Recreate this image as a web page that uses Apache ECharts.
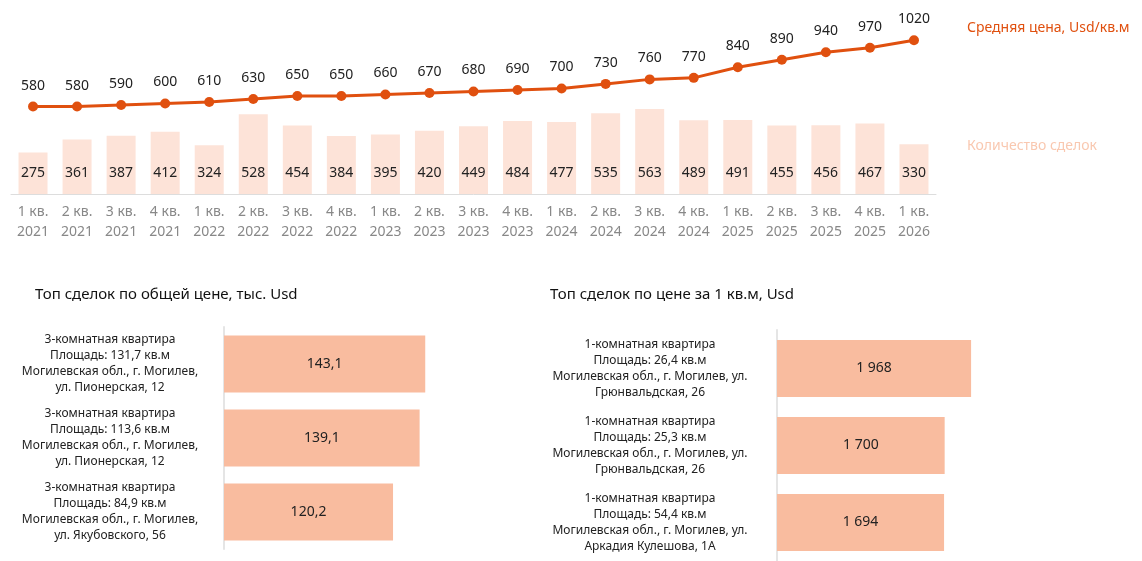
<!DOCTYPE html>
<html>
<head>
<meta charset="utf-8">
<script src="https://cdn.jsdelivr.net/npm/echarts@6/dist/echarts.min.js"></script>
<style>html,body{margin:0;padding:0;background:#fff}#c{width:1142px;height:561px}</style>
</head>
<body>
<div id="c"></div>
<script>
var quarters = ['1 кв.\n2021','2 кв.\n2021','3 кв.\n2021','4 кв.\n2021','1 кв.\n2022','2 кв.\n2022','3 кв.\n2022','4 кв.\n2022',
  '1 кв.\n2023','2 кв.\n2023','3 кв.\n2023','4 кв.\n2023','1 кв.\n2024','2 кв.\n2024','3 кв.\n2024','4 кв.\n2024',
  '1 кв.\n2025','2 кв.\n2025','3 кв.\n2025','4 кв.\n2025','1 кв.\n2026'];
var avgPrice = [580,580,590,600,610,630,650,650,660,670,680,690,700,730,760,770,840,890,940,970,1020];
var dealCount = [275,361,387,412,324,528,454,384,395,420,449,484,477,535,563,489,491,455,456,467,330];

var totalLabels = ['3-комнатная квартира\nПлощадь: 131,7 кв.м\nМогилевская обл., г. Могилев,\nул. Пионерская, 12',
  '3-комнатная квартира\nПлощадь: 113,6 кв.м\nМогилевская обл., г. Могилев,\nул. Пионерская, 12',
  '3-комнатная квартира\nПлощадь: 84,9 кв.м\nМогилевская обл., г. Могилев,\nул. Якубовского, 56'];
var totalValues = [143.1, 139.1, 120.2];

var sqmLabels = ['1-комнатная квартира\nПлощадь: 26,4 кв.м\nМогилевская обл., г. Могилев, ул.\nГрюнвальдская, 26',
  '1-комнатная квартира\nПлощадь: 25,3 кв.м\nМогилевская обл., г. Могилев, ул.\nГрюнвальдская, 26',
  '1-комнатная квартира\nПлощадь: 54,4 кв.м\nМогилевская обл., г. Могилев, ул.\nАркадия Кулешова, 1А'];
var sqmValues = [1968, 1700, 1694];

var font = 'Noto Sans';
var chart = echarts.init(document.getElementById('c'));
chart.setOption({
  animation: false,
  textStyle: {fontFamily: font},
  title: [
    {text: 'Топ сделок по общей цене, тыс. Usd', left: 30, top: 282, textStyle: {fontFamily: font, fontSize: 15, fontWeight: 'normal', color: '#111'}},
    {text: 'Топ сделок по цене за 1 кв.м, Usd', left: 545, top: 282, textStyle: {fontFamily: font, fontSize: 15, fontWeight: 'normal', color: '#111'}},
    {text: 'Средняя цена, Usd/кв.м', left: 962, top: 16, textStyle: {fontFamily: font, fontSize: 14, fontWeight: 'normal', color: '#e0500f'}},
    {text: 'Количество сделок', left: 962, top: 134, textStyle: {fontFamily: font, fontSize: 14, fontWeight: 'normal', color: '#f9c8b0'}}
  ],
  grid: [
    {left: 11, right: 206, top: 10, bottom: 367},
    {left: 224, width: 225, top: 327, bottom: 12},
    {left: 777, width: 215, top: 330, bottom: 0}
  ],
  xAxis: [
    {type: 'category', gridIndex: 0, data: quarters, axisTick: {show: false},
      axisLine: {lineStyle: {color: '#ddd'}},
      axisLabel: {color: '#888', fontSize: 14, lineHeight: 20, margin: 8}},
    {type: 'value', gridIndex: 1, min: 0, max: 160, show: false},
    {type: 'value', gridIndex: 2, min: 0, max: 2180, show: false}
  ],
  yAxis: [
    {type: 'value', gridIndex: 0, min: 0, max: 1220, show: false},
    {type: 'category', gridIndex: 1, data: totalLabels, inverse: true, axisTick: {show: false},
      axisLine: {lineStyle: {color: '#e5e5e5', width: 2}},
      axisLabel: {align: 'center', margin: 114, color: '#222', fontSize: 12, lineHeight: 16}},
    {type: 'category', gridIndex: 2, data: sqmLabels, inverse: true, axisTick: {show: false},
      axisLine: {lineStyle: {color: '#e5e5e5', width: 2}},
      axisLabel: {align: 'center', margin: 127, color: '#222', fontSize: 12, lineHeight: 16}}
  ],
  series: [
    {type: 'bar', xAxisIndex: 0, yAxisIndex: 0, data: dealCount, barWidth: 29,
      itemStyle: {color: '#fde3d8'},
      label: {show: true, position: 'insideBottom', distance: 14, color: '#222', fontSize: 14}},
    {type: 'line', xAxisIndex: 0, yAxisIndex: 0, data: avgPrice, symbol: 'circle', symbolSize: 10,
      lineStyle: {color: '#e0500f', width: 3}, itemStyle: {color: '#e0500f'},
      label: {show: true, position: 'top', distance: 9, color: '#222', fontSize: 14}},
    {type: 'bar', xAxisIndex: 1, yAxisIndex: 1, data: totalValues, barWidth: 57,
      itemStyle: {color: '#f9bc9f'},
      label: {show: true, position: 'inside', color: '#222', fontSize: 14,
        formatter: function (p) { return p.value.toFixed(1).replace('.', ','); }}},
    {type: 'bar', xAxisIndex: 2, yAxisIndex: 2, data: sqmValues, barWidth: 57,
      itemStyle: {color: '#f9bc9f'},
      label: {show: true, position: 'inside', color: '#222', fontSize: 14,
        formatter: function (p) { var s = String(p.value); return s.slice(0, 1) + ' ' + s.slice(1); }}}
  ]
});
</script>
</body>
</html>
